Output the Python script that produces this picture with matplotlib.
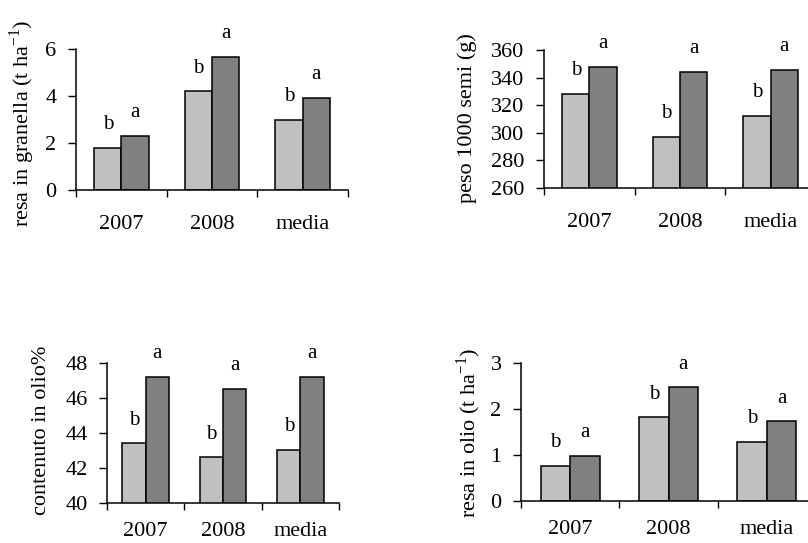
import numpy as np
import matplotlib
matplotlib.use("Agg")
import matplotlib.pyplot as plt

plt.rcParams['font.family'] = ['Liberation Serif', 'DejaVu Serif']
plt.rcParams['mathtext.fontset'] = 'custom'
plt.rcParams['mathtext.rm'] = 'Liberation Serif'

categories = ["2007", "2008", "media"]

# resa in granella (t/ha)
grain_light = [1.8, 4.2, 3.0]
grain_dark = [2.3, 5.65, 3.92]
grain_letters = (["b", "b", "b"], ["a", "a", "a"])

# peso 1000 semi (g)
seed_light = [328, 297, 312]
seed_dark = [348, 344, 345.5]
seed_letters = (["b", "b", "b"], ["a", "a", "a"])

# contenuto in olio %
oil_light = [43.4, 42.6, 43.05]
oil_dark = [47.2, 46.5, 47.2]
oil_letters = (["b", "b", "b"], ["a", "a", "a"])

# resa in olio (t/ha)
oilyield_light = [0.77, 1.82, 1.28]
oilyield_dark = [0.98, 2.47, 1.73]
oilyield_letters = (["b", "b", "b"], ["a", "a", "a"])

W, H = 808, 543
FS = 16
fig = plt.figure(figsize=(W / 100, H / 100), dpi=100)


def px_axes(x0, y0, x1, y1):
    return fig.add_axes([x0 / W, (H - y1) / H, (x1 - x0) / W, (y1 - y0) / H])


def panel(ax, light, dark, letters, ylim, yticks, xpad=18):
    x = np.arange(len(categories)) + 0.5
    bw = 0.3
    ax.bar(x - bw / 2, light, bw, color="#c0c0c0", edgecolor="black", linewidth=1.1, zorder=2)
    ax.bar(x + bw / 2, dark, bw, color="#808080", edgecolor="black", linewidth=1.1, zorder=2)
    for xi, v, t in zip(x - bw / 2, light, letters[0]):
        ax.annotate(t, (xi, v), xytext=(0, 13.5), textcoords="offset points",
                    ha="center", va="baseline", fontsize=15)
    for xi, v, t in zip(x + bw / 2, dark, letters[1]):
        ax.annotate(t, (xi, v), xytext=(0, 13.5), textcoords="offset points",
                    ha="center", va="baseline", fontsize=15)
    ax.set_xlim(0, len(categories))
    ax.set_ylim(*ylim)
    ax.set_yticks(yticks)
    ax.set_xticks(x)
    ax.set_xticklabels(categories)
    ax.set_xticks(np.arange(len(categories) + 1), minor=True)
    ax.tick_params(axis="x", which="major", length=0, pad=xpad, labelsize=FS)
    ax.tick_params(axis="x", which="minor", length=5, width=1, direction="out")
    ax.tick_params(axis="y", length=6, width=1, pad=8, labelsize=FS, direction="out")
    for s in ("top", "right"):
        ax.spines[s].set_visible(False)
    for s in ("left", "bottom"):
        ax.spines[s].set_linewidth(1.1)
    ax.set_facecolor("none")


ax1 = px_axes(76, 49, 348, 190)
panel(ax1, grain_light, grain_dark, grain_letters, (0, 6), [0, 2, 4, 6])

ax2 = px_axes(544, 50, 816, 188)
panel(ax2, seed_light, seed_dark, seed_letters, (260, 360), range(260, 361, 20))

ax3 = px_axes(107, 363, 339, 503)
panel(ax3, oil_light, oil_dark, oil_letters, (40, 48), [40, 42, 44, 46, 48], xpad=14)

ax4 = px_axes(521, 363, 816, 501)
panel(ax4, oilyield_light, oilyield_dark, oilyield_letters, (0, 3), [0, 1, 2, 3], xpad=14)

# axis titles
fig.text(22 / W, 1 - 123 / H, "resa in granella (t ha$^{-1}$)", rotation=90,
         ha="center", va="center", fontsize=FS)
fig.text(467 / W, 1 - 118 / H, "peso 1000 semi (g)", rotation=90,
         ha="center", va="center", fontsize=FS)
fig.text(42 / W, 1 - 430 / H, "contenuto in olio%", rotation=90,
         ha="center", va="center", fontsize=FS)
fig.text(469 / W, 1 - 433 / H, "resa in olio (t ha$^{-1}$)", rotation=90,
         ha="center", va="center", fontsize=FS)

fig.savefig("out.png", dpi=100)
